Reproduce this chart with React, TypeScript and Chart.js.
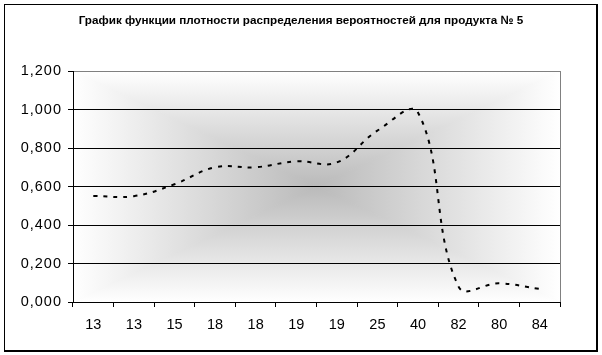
import React, { useEffect, useRef } from 'react';
import { Chart, registerables } from 'chart.js';

Chart.register(...registerables);

const titleText = 'График функции плотности распределения вероятностей для продукта № 5';
const categories = ['13', '13', '15', '18', '18', '19', '19', '25', '40', '82', '80', '84'];
const densityValues = [0.551, 0.55, 0.612, 0.7, 0.7, 0.731, 0.725, 0.89, 0.985, 0.08, 0.097, 0.068];
const yTickLabels = ['0,000', '0,200', '0,400', '0,600', '0,800', '1,000', '1,200'];

const FONT = "'Liberation Sans', Arial, sans-serif";

const plotBackground = {
  id: 'plotBackground',
  beforeDraw(chart: any) {
    const { ctx, chartArea: a } = chart;
    // wider letter spacing for the value-axis labels
    const ys = chart.scales.y;
    if (ys && !ys.__spaced) {
      const orig = ys.drawLabels.bind(ys);
      ys.drawLabels = (area: any) => {
        ys.ctx.save();
        (ys.ctx as any).letterSpacing = '1px';
        orig(area);
        ys.ctx.restore();
      };
      ys.__spaced = true;
    }
    const cx = (a.left + a.right) / 2;
    const cy = (a.top + a.bottom) / 2;
    const tri = (pts: number[][], x1: number, y1: number) => {
      const g = ctx.createLinearGradient(cx, cy, x1, y1);
      g.addColorStop(0, '#bababa');
      g.addColorStop(1, '#ffffff');
      ctx.beginPath();
      ctx.moveTo(cx, cy);
      pts.forEach(([x, y]) => ctx.lineTo(x, y));
      ctx.closePath();
      ctx.fillStyle = g;
      ctx.strokeStyle = g;
      ctx.lineWidth = 1;
      ctx.fill();
      ctx.stroke();
    };
    ctx.save();
    ctx.beginPath();
    ctx.rect(a.left, a.top, a.right - a.left, a.bottom - a.top);
    ctx.clip();
    tri([[a.left, a.top], [a.right, a.top]], cx, a.top);
    tri([[a.left, a.bottom], [a.right, a.bottom]], cx, a.bottom);
    tri([[a.left, a.top], [a.left, a.bottom]], a.left, cy);
    tri([[a.right, a.top], [a.right, a.bottom]], a.right, cy);
    ctx.restore();
  },
  beforeDatasetsDraw(chart: any) {
    const { ctx, chartArea: a } = chart;
    ctx.save();
    ctx.strokeStyle = '#808080';
    ctx.lineWidth = 1;
    ctx.beginPath();
    const x = Math.round(a.right) + 0.5;
    ctx.moveTo(x, a.top);
    ctx.lineTo(x, a.bottom);
    ctx.stroke();
    ctx.restore();
  },
};

export default function App() {
  const canvasRef = useRef<HTMLCanvasElement | null>(null);

  useEffect(() => {
    if (!canvasRef.current) return;
    const chart = new Chart(canvasRef.current, {
      type: 'line',
      data: {
        labels: categories,
        datasets: [
          {
            data: densityValues,
            borderColor: '#000000',
            borderWidth: 2,
            borderDash: [4, 6],
            borderCapStyle: 'butt',
            pointRadius: 0,
            tension: 0.4,
            fill: false,
          },
        ],
      },
      options: {
        animation: false,
        responsive: false,
        devicePixelRatio: 1,
        layout: { padding: { left: 0, right: 0, top: 0, bottom: 0 } },
        plugins: {
          legend: { display: false },
          tooltip: { enabled: false },
          title: {
            display: true,
            text: titleText,
            color: '#000000',
            font: { family: FONT, size: 11.7, weight: 'bold' },
            padding: { top: 14, bottom: 43 },
          },
        },
        scales: {
          x: {
            offset: true,
            afterFit(scale: any) {
              scale.height = 53;
            },
            grid: {
              offset: true,
              drawOnChartArea: false,
              drawTicks: true,
              tickLength: 5,
              color: '#000000',
              tickColor: '#000000',
            },
            border: { display: true, color: '#000000', width: 1 },
            ticks: {
              color: '#000000',
              font: { family: FONT, size: 14.5 },
              padding: 9,
              maxRotation: 0,
              autoSkip: false,
            },
          },
          y: {
            min: 0,
            max: 1.2,
            afterFit(scale: any) {
              scale.width = 73;
            },
            grid: {
              drawTicks: true,
              tickLength: 5,
              color: (ctx: any) => (ctx.index === 6 ? '#808080' : '#000000'),
              tickColor: '#000000',
            },
            border: { display: true, color: '#000000', width: 1 },
            ticks: {
              stepSize: 0.2,
              color: '#000000',
              font: { family: FONT, size: 14.5 },
              padding: 6,
              callback: (_v: any, index: number) => yTickLabels[index],
            },
          },
          gap: {
            position: 'right',
            display: true,
            afterFit(scale: any) {
              scale.width = 42;
            },
            grid: { display: false, drawTicks: false },
            border: { display: false },
            ticks: { display: false },
          },
        },
      },
      plugins: [plotBackground],
    } as any);
    return () => chart.destroy();
  }, []);

  return (
    <div style={{ position: 'fixed', left: 0, top: 0, width: 602, height: 355, background: '#ffffff' }}>
      <canvas ref={canvasRef} width={602} height={355} style={{ display: 'block', width: 602, height: 355 }} />
      <div
        style={{
          position: 'absolute',
          left: 4,
          top: 4,
          width: 591,
          height: 345,
          borderLeft: '1px solid #000',
          borderTop: '1px solid #000',
          borderRight: '2px solid #000',
          borderBottom: '2px solid #000',
          pointerEvents: 'none',
        }}
      />
    </div>
  );
}
